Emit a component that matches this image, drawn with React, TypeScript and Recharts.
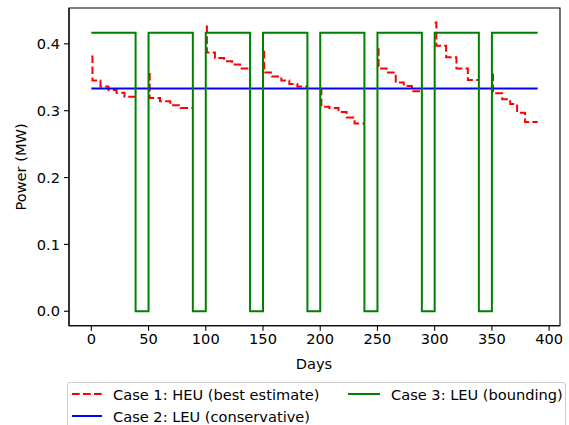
import { LineChart, Line, XAxis, YAxis, ReferenceArea } from "recharts";

// HEU best estimate: stepwise burn-down within each cycle, gaps during shutdowns
const heuDays = [
  0, 1, 8, 15, 22, 29, 38.7, 44,
  50, 51, 60, 69, 78, 88.7, 94,
  100, 101, 108, 116, 123, 130, 138.7, 144,
  150, 151, 158, 166, 173, 180, 188.8, 194,
  200, 201, 208, 216, 223, 230, 238.6, 244,
  250, 251, 258, 266, 273, 280, 288.8, 294,
  300, 301.5, 310, 319, 329, 338.6, 344,
  350, 351, 359, 366, 372, 379, 390,
];
const heuPower = [
  0.381, 0.345, 0.336, 0.331, 0.327, 0.321, 0.321, null,
  0.355, 0.319, 0.314, 0.308, 0.304, 0.304, null,
  0.426, 0.387, 0.379, 0.374, 0.369, 0.363, 0.363, null,
  0.388, 0.357, 0.351, 0.345, 0.34, 0.336, 0.336, null,
  0.333, 0.306, 0.304, 0.298, 0.29, 0.281, 0.281, null,
  0.392, 0.363, 0.357, 0.342, 0.337, 0.329, 0.329, null,
  0.432, 0.397, 0.38, 0.363, 0.346, 0.346, null,
  0.354, 0.326, 0.317, 0.31, 0.297, 0.283, 0.283,
];

// LEU conservative: constant
const conservativeDays = [0, 390];
const conservativePower = [0.3333, 0.3333];

// LEU bounding: on/off cycles
const boundingDays = [0, 38.7, 50, 88.7, 100, 138.7, 150, 188.8, 200, 238.6, 250, 288.8, 300, 338.6, 350, 390];
const boundingPower = [0.4167, 0, 0.4167, 0, 0.4167, 0, 0.4167, 0, 0.4167, 0, 0.4167, 0, 0.4167, 0, 0.4167, 0.4167];

const xTicks = [0, 50, 100, 150, 200, 250, 300, 350, 400];
const yTicks = [0, 0.1, 0.2, 0.3, 0.4];
const xDomain = [-19.5, 409.5];
const yDomain = [-0.0216, 0.4536];

const toRows = (xs: number[], ys: (number | null)[]) => xs.map((x, i) => ({ x, y: ys[i] }));

const heuData = toRows(heuDays, heuPower);
const conservativeData = toRows(conservativeDays, conservativePower);
const boundingData = toRows(boundingDays, boundingPower);

const FONT = "DejaVu Sans, sans-serif";
const FS = 14.6;
const tickStyle = { fill: "#000", fontSize: FS, fontFamily: FONT };

export default function App() {
  return (
    <div style={{ position: "absolute", left: 0, top: 0, width: 569, height: 425, overflow: "hidden", background: "#fff" }}>
      <LineChart width={569} height={425} margin={{ top: 8, right: 9, bottom: 0, left: 0 }}>
        <XAxis
          dataKey="x"
          type="number"
          domain={xDomain}
          ticks={xTicks}
          allowDataOverflow
          height={99.3}
          tick={tickStyle}
          tickSize={5}
          tickMargin={3}
          axisLine={{ stroke: "#000", strokeWidth: 1.1 }}
          tickLine={{ stroke: "#000", strokeWidth: 1.1 }}
          label={{
            content: () => (
              <text x={314} y={363} textAnchor="middle" dominantBaseline="central" fontSize={FS} fontFamily={FONT} fill="#000">
                Days
              </text>
            ),
          }}
        />
        <YAxis
          type="number"
          domain={yDomain}
          ticks={yTicks}
          allowDataOverflow
          width={69}
          tick={tickStyle}
          tickSize={5}
          tickMargin={4}
          tickFormatter={(v: number) => v.toFixed(1)}
          axisLine={{ stroke: "#000", strokeWidth: 1.1 }}
          tickLine={{ stroke: "#000", strokeWidth: 1.1 }}
          label={{
            content: () => (
              <text x={20} y={167} transform="rotate(-90 20 167)" textAnchor="middle" dominantBaseline="central" fontSize={FS} fontFamily={FONT} fill="#000">
                Power (MW)
              </text>
            ),
          }}
        />
        <ReferenceArea x1={xDomain[0]} x2={xDomain[1]} y1={yDomain[0]} y2={yDomain[1]} fill="none" stroke="#000" strokeWidth={1.1} ifOverflow="visible" />
        <Line
          data={heuData}
          dataKey="y"
          type="stepAfter"
          stroke="#ff0000"
          strokeWidth={2}
          strokeDasharray="7.7 3.3"
          dot={false}
          connectNulls={false}
          isAnimationActive={false}
        />
        <Line data={conservativeData} dataKey="y" type="stepAfter" stroke="#0000ff" strokeWidth={2} dot={false} isAnimationActive={false} />
        <Line data={boundingData} dataKey="y" type="stepAfter" stroke="#008000" strokeWidth={2} dot={false} isAnimationActive={false} />
      </LineChart>

      <div
        style={{
          position: "absolute",
          left: 67,
          top: 381.5,
          width: 499,
          height: 60,
          border: "1px solid #cccccc",
          borderRadius: 3,
          background: "rgba(255,255,255,0.8)",
          boxSizing: "border-box",
        }}
      >
        <svg width={499} height={60} style={{ position: "absolute", left: -1, top: -1 }}>
          <line x1={5} x2={35} y1={12} y2={12} stroke="#ff0000" strokeWidth={2} strokeDasharray="7.7 3.3" />
          <line x1={5} x2={35} y1={34} y2={34} stroke="#0000ff" strokeWidth={2} />
          <line x1={281} x2={313} y1={12} y2={12} stroke="#008000" strokeWidth={2} />
          <text x={46} y={12} dominantBaseline="central" fontSize={FS} fontFamily={FONT}>Case 1: HEU (best estimate)</text>
          <text x={46} y={34} dominantBaseline="central" fontSize={FS} fontFamily={FONT}>Case 2: LEU (conservative)</text>
          <text x={324} y={12} dominantBaseline="central" fontSize={FS} fontFamily={FONT}>Case 3: LEU (bounding)</text>
        </svg>
      </div>
    </div>
  );
}
